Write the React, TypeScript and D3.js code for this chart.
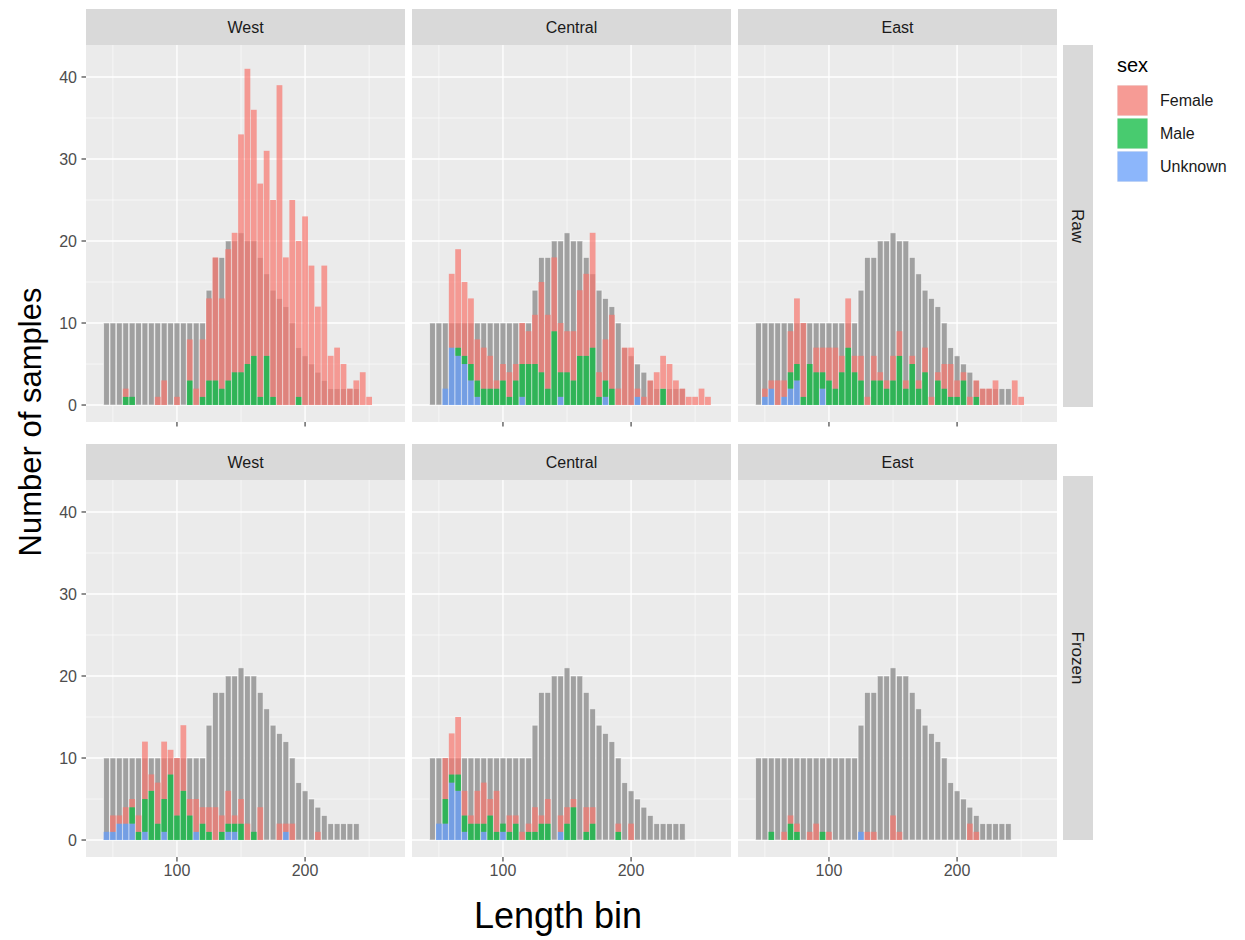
import * as d3 from 'd3'
import React from 'react'

const regions = ['West', 'Central', 'East']
const conditions = ['Raw', 'Frozen']
const sexes = ['Female', 'Male', 'Unknown']
const sexColors = ['#F8766D', '#00BA38', '#619CFF']

// grey reference distribution, same in every panel
const targetBins = [45, 50, 55, 60, 65, 70, 75, 80, 85, 90, 95, 100, 105, 110, 115, 120, 125, 130, 135, 140,
  145, 150, 155, 160, 165, 170, 175, 180, 185, 190, 195, 200, 205, 210, 215, 220, 225, 230, 235, 240]
const targetCounts = [10, 10, 10, 10, 10, 10, 10, 10, 10, 10, 10, 10, 10, 10, 10, 10, 14, 18, 18, 20,
  20, 21, 20, 20, 18, 16, 14, 13, 12, 10, 7, 6, 5, 4, 3, 2, 2, 2, 2, 2]

// [length bin, count]
const rawWestFemale = [[60, 1], [85, 1], [90, 3], [100, 1], [110, 5], [115, 2], [120, 7], [125, 10], [130, 15], [135, 11],
  [140, 16], [145, 17], [150, 29], [155, 36], [160, 30], [165, 26], [170, 25], [175, 24], [180, 39], [185, 18], [190, 25],
  [195, 19], [200, 23], [205, 17], [210, 12], [215, 17], [220, 6], [225, 7], [230, 5], [235, 2], [240, 3], [245, 4], [250, 1]]
const rawWestMale = [[60, 1], [65, 1], [110, 3], [120, 1], [125, 3], [130, 3], [135, 2], [140, 3], [145, 4], [150, 4],
  [155, 5], [160, 6], [165, 1], [170, 6], [175, 1], [195, 1]]
const rawWestUnknown = []

const rawCentralFemale = [[60, 9], [65, 12], [70, 9], [75, 8], [80, 5], [85, 5], [90, 4], [95, 1], [100, 2], [105, 3],
  [110, 2], [115, 5], [120, 4], [125, 6], [130, 11], [135, 9], [140, 9], [145, 6], [150, 5], [155, 6], [160, 8], [165, 10],
  [170, 14], [175, 3], [180, 5], [185, 9], [190, 2], [195, 7], [200, 7], [205, 1], [210, 1], [215, 3], [220, 4], [225, 4],
  [230, 5], [235, 3], [240, 2], [245, 1], [250, 1], [255, 2], [260, 1]]
const rawCentralMale = [[65, 1], [70, 1], [75, 2], [80, 2], [85, 2], [90, 2], [95, 2], [100, 3], [105, 1], [110, 3],
  [115, 4], [120, 5], [125, 5], [130, 4], [135, 2], [140, 9], [145, 3], [150, 4], [155, 3], [160, 6], [165, 6], [170, 7],
  [175, 1], [180, 2], [185, 2], [225, 2]]
const rawCentralUnknown = [[55, 2], [60, 7], [65, 6], [70, 5], [75, 3], [80, 1], [115, 1], [145, 1], [180, 1], [205, 1]]

const rawEastFemale = [[50, 1], [55, 1], [60, 3], [65, 2], [70, 5], [75, 8], [80, 9], [90, 3], [95, 3], [100, 4],
  [105, 5], [110, 2], [115, 6], [120, 2], [125, 3], [130, 1], [135, 3], [140, 1], [145, 1], [150, 3], [155, 3], [160, 1],
  [165, 1], [170, 1], [175, 3], [180, 1], [185, 1], [190, 3], [195, 4], [200, 2], [205, 1], [210, 1], [215, 2], [220, 2],
  [225, 2], [230, 3], [245, 3], [250, 1]]
const rawEastMale = [[70, 2], [75, 2], [80, 1], [85, 5], [90, 4], [95, 2], [100, 3], [105, 2], [110, 4], [115, 7],
  [120, 4], [125, 3], [135, 3], [140, 3], [145, 2], [150, 3], [155, 6], [160, 2], [165, 5], [170, 2], [175, 4], [185, 3],
  [190, 2], [195, 1], [200, 1], [205, 3], [215, 1]]
const rawEastUnknown = [[50, 1], [55, 2], [65, 1], [70, 2], [75, 3], [95, 2]]

const frozenWestFemale = [[50, 2], [55, 1], [60, 2], [65, 1], [70, 2], [75, 7], [80, 2], [85, 5], [90, 7], [95, 3],
  [100, 7], [105, 8], [110, 2], [115, 4], [120, 2], [125, 3], [130, 4], [135, 2], [140, 4], [145, 1], [150, 3], [155, 2],
  [165, 4], [180, 2], [185, 1], [190, 2], [210, 1]]
const frozenWestMale = [[65, 2], [70, 1], [75, 4], [80, 6], [85, 2], [90, 4], [95, 8], [100, 3], [105, 6], [110, 3],
  [120, 2], [125, 1], [135, 1], [140, 1], [145, 1], [150, 2], [160, 1]]
const frozenWestUnknown = [[45, 1], [50, 1], [55, 2], [60, 2], [65, 2], [75, 1], [90, 1], [115, 1], [140, 1], [145, 1], [185, 1]]

const frozenCentralFemale = [[55, 5], [60, 5], [65, 7], [70, 3], [75, 1], [80, 4], [85, 5], [90, 2], [95, 5], [105, 2],
  [110, 1], [115, 1], [120, 1], [125, 3], [130, 1], [135, 3], [145, 2], [150, 2], [155, 1], [165, 3], [170, 2], [190, 1], [200, 2]]
const frozenCentralMale = [[55, 3], [60, 1], [65, 2], [70, 2], [75, 2], [80, 2], [85, 1], [90, 3], [95, 1], [100, 1],
  [105, 1], [110, 2], [120, 1], [125, 1], [130, 2], [135, 2], [150, 2], [155, 4], [165, 1], [170, 2], [190, 1]]
const frozenCentralUnknown = [[50, 2], [55, 2], [60, 7], [65, 6], [70, 1], [85, 1], [100, 1], [145, 1]]

const frozenEastFemale = [[65, 1], [70, 1], [75, 1], [85, 1], [90, 2], [100, 1], [130, 1], [135, 1], [150, 3], [155, 1],
  [210, 2], [215, 1]]
const frozenEastMale = [[55, 1], [70, 2], [75, 1], [95, 1]]
const frozenEastUnknown = [[125, 1]]

const yTicks = [0, 10, 20, 30, 40]
const yMinor = [5, 15, 25, 35]
const xTicks = [100, 200]
const xMinor = [50, 150, 250]

const samples = {
  Raw: {
    West: { Female: rawWestFemale, Male: rawWestMale, Unknown: rawWestUnknown },
    Central: { Female: rawCentralFemale, Male: rawCentralMale, Unknown: rawCentralUnknown },
    East: { Female: rawEastFemale, Male: rawEastMale, Unknown: rawEastUnknown }
  },
  Frozen: {
    West: { Female: frozenWestFemale, Male: frozenWestMale, Unknown: frozenWestUnknown },
    Central: { Female: frozenCentralFemale, Male: frozenCentralMale, Unknown: frozenCentralUnknown },
    East: { Female: frozenEastFemale, Male: frozenEastMale, Unknown: frozenEastUnknown }
  }
}

const FONT = '"Liberation Sans", Arial, sans-serif'
const colX = [86, 412, 738]
const rowY = [45, 480]
const pw = 319
const ph = 377
const stripH = 36
// right-hand strips are a bit shorter than the panels in the original
const sideStrip = [[45, 362], [476, 364]]

const x = d3.scaleLinear().domain([29, 278]).range([0, pw])
const y = d3.scaleLinear().domain([-2.07, 43.9]).range([ph, 0])
const color = d3.scaleOrdinal<string, string>().domain(sexes).range(sexColors)
const half = 2.25

function Panel({ cond, region }: { cond: string; region: string }) {
  const s = samples[cond][region]
  const bins = Array.from(new Set(sexes.flatMap(k => s[k].map(d => d[0])))).sort((a, b) => a - b)
  const rows = bins.map(b => {
    const row: any = { bin: b }
    sexes.forEach(k => {
      const hit = s[k].find(d => d[0] === b)
      row[k] = hit ? hit[1] : 0
    })
    return row
  })
  const layers = d3.stack().keys(['Unknown', 'Male', 'Female'])(rows)

  return (
    <g>
      <rect width={pw} height={ph} fill="#EBEBEB" />
      {yMinor.map(v => (
        <line key={'ym' + v} x1={0} x2={pw} y1={y(v)} y2={y(v)} stroke="#fff" strokeWidth={0.6} />
      ))}
      {xMinor.map(v => (
        <line key={'xm' + v} y1={0} y2={ph} x1={x(v)} x2={x(v)} stroke="#fff" strokeWidth={0.6} />
      ))}
      {yTicks.map(v => (
        <line key={'y' + v} x1={0} x2={pw} y1={y(v)} y2={y(v)} stroke="#fff" strokeWidth={1.3} />
      ))}
      {xTicks.map(v => (
        <line key={'x' + v} y1={0} y2={ph} x1={x(v)} x2={x(v)} stroke="#fff" strokeWidth={1.3} />
      ))}
      {targetBins.map((b, i) => (
        <rect
          key={'t' + b}
          x={x(b - half)}
          width={x(b + half) - x(b - half)}
          y={y(targetCounts[i])}
          height={y(0) - y(targetCounts[i])}
          fill="#A0A0A0"
          stroke="#fff"
          strokeWidth={0.9}
          strokeOpacity={0.6}
        />
      ))}
      {layers.map(layer =>
        layer.map(d =>
          d[1] > d[0] ? (
            <rect
              key={layer.key + d.data.bin}
              x={x(d.data.bin - half)}
              width={x(d.data.bin + half) - x(d.data.bin - half)}
              y={y(d[1])}
              height={y(d[0]) - y(d[1])}
              fill={color(layer.key)}
              fillOpacity={0.7}
            />
          ) : null
        )
      )}
    </g>
  )
}

export default function App() {
  return (
    <svg
      width={1245}
      height={940}
      style={{ position: 'absolute', left: 0, top: 0, background: '#fff' }}
      fontFamily={FONT}
    >
      <rect width={1245} height={940} fill="#fff" />
      {conditions.map((cond, r) => (
        <g key={cond}>
          {regions.map((region, c) => (
            <g key={region} transform={`translate(${colX[c]},${rowY[r]})`}>
              <rect y={-stripH} width={pw} height={stripH} fill="#D9D9D9" />
              <text x={pw / 2} y={-stripH / 2} dy="0.35em" textAnchor="middle" fontSize={16} fill="#1A1A1A">
                {region}
              </text>
              <Panel cond={cond} region={region} />
              {xTicks.map(v => (
                <line key={v} x1={x(v)} x2={x(v)} y1={ph} y2={ph + 4.5} stroke="#333" strokeWidth={1.1} />
              ))}
              {r === 1 &&
                xTicks.map(v => (
                  <text key={'l' + v} x={x(v)} y={ph + 19} textAnchor="middle" fontSize={16} fill="#4D4D4D">
                    {v}
                  </text>
                ))}
              {c === 0 &&
                yTicks.map(v => (
                  <g key={v}>
                    <line x1={-4.5} x2={0} y1={y(v)} y2={y(v)} stroke="#333" strokeWidth={1.1} />
                    <text x={-9} y={y(v)} dy="0.35em" textAnchor="end" fontSize={16} fill="#4D4D4D">
                      {v}
                    </text>
                  </g>
                ))}
            </g>
          ))}
          <g transform={`translate(1063,${sideStrip[r][0]})`}>
            <rect width={30} height={sideStrip[r][1]} fill="#D9D9D9" />
            <text
              transform={`translate(15,${sideStrip[r][1] / 2}) rotate(90)`}
              textAnchor="middle"
              dy="0.35em"
              fontSize={17}
              fill="#1A1A1A"
            >
              {cond}
            </text>
          </g>
        </g>
      ))}

      <text transform="translate(30,422) rotate(-90)" textAnchor="middle" dy="0.35em" fontSize={31} fill="#000">
        Number of samples
      </text>
      <text x={558} y={928} textAnchor="middle" fontSize={36} fill="#000">
        Length bin
      </text>

      <g transform="translate(1117,0)">
        <text x={0} y={72} fontSize={20} fill="#000">
          sex
        </text>
        {sexes.map((k, i) => (
          <g key={k} transform={`translate(0,${85 + i * 33})`}>
            <rect width={31} height={31} fill="#F2F2F2" />
            <rect x={0.5} y={0.5} width={30} height={30} fill={color(k)} fillOpacity={0.7} />
            <text x={43} y={15.5} dy="0.35em" fontSize={16} fill="#1A1A1A">
              {k}
            </text>
          </g>
        ))}
      </g>
    </svg>
  )
}
